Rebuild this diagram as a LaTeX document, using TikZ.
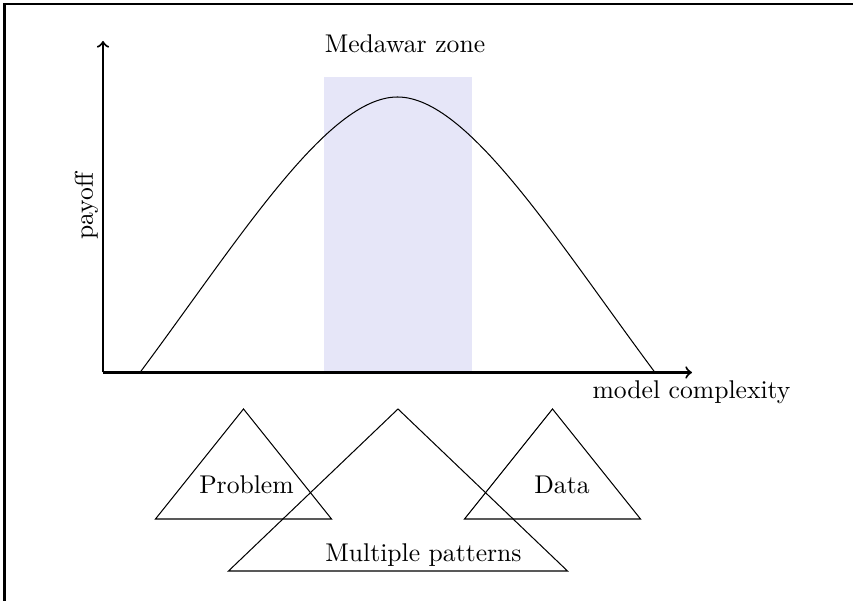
\documentclass[tikz,border=0pt]{standalone}
\definecolor{zonefill}{RGB}{230,230,248}
\begin{document}
\begin{tikzpicture}[x=0.39pt,y=-0.39pt,
  axisline/.style={thick,->},
  tri/.style={draw,line join=miter},
  lbl/.style={inner sep=0pt}]
\useasboundingbox (0,0) rectangle (853,601);
% zone
\fill[zonefill] (323.5,77.5) rectangle (471.5,372.5);
% frame (clipped)
\draw[thick] (4.5,601) -- (4.5,4) -- (853,4);
% axes
\coordinate (O) at (103,372.5);
\coordinate (Ytip) at (103,41);
\coordinate (Xtip) at (692,372.5);
\draw[axisline] (O) -- (Ytip);
\draw[axisline] (O) -- (Xtip);
% curve
\coordinate (cL) at (140,372.5);
\coordinate (cP) at (397.5,97);
\coordinate (cR) at (655,372.5);
\draw (cL) .. controls (240,238) and (327.5,97) .. (cP)
           .. controls (467.5,97) and (555,238) .. (cR);
% labels
\node[lbl] (mz) at (405,44) {Medawar zone};
\node[lbl,rotate=90] (pay) at (86.5,206) {payoff};
\node[lbl] (mc) at (691.5,392) {model complexity};
% triangles
\draw[tri] (243.5,409) -- (331.5,519) -- (155.5,519) -- cycle;
\draw[tri] (552.5,409) -- (640.5,519) -- (464.5,519) -- cycle;
\draw[tri] (398,409) -- (567.5,571) -- (228.5,571) -- cycle;
\node[lbl] (prob) at (246.5,485) {Problem};
\node[lbl] (data) at (562,485) {Data};
\node[lbl] (mp) at (423.5,555) {Multiple patterns};
\end{tikzpicture}
\end{document}
